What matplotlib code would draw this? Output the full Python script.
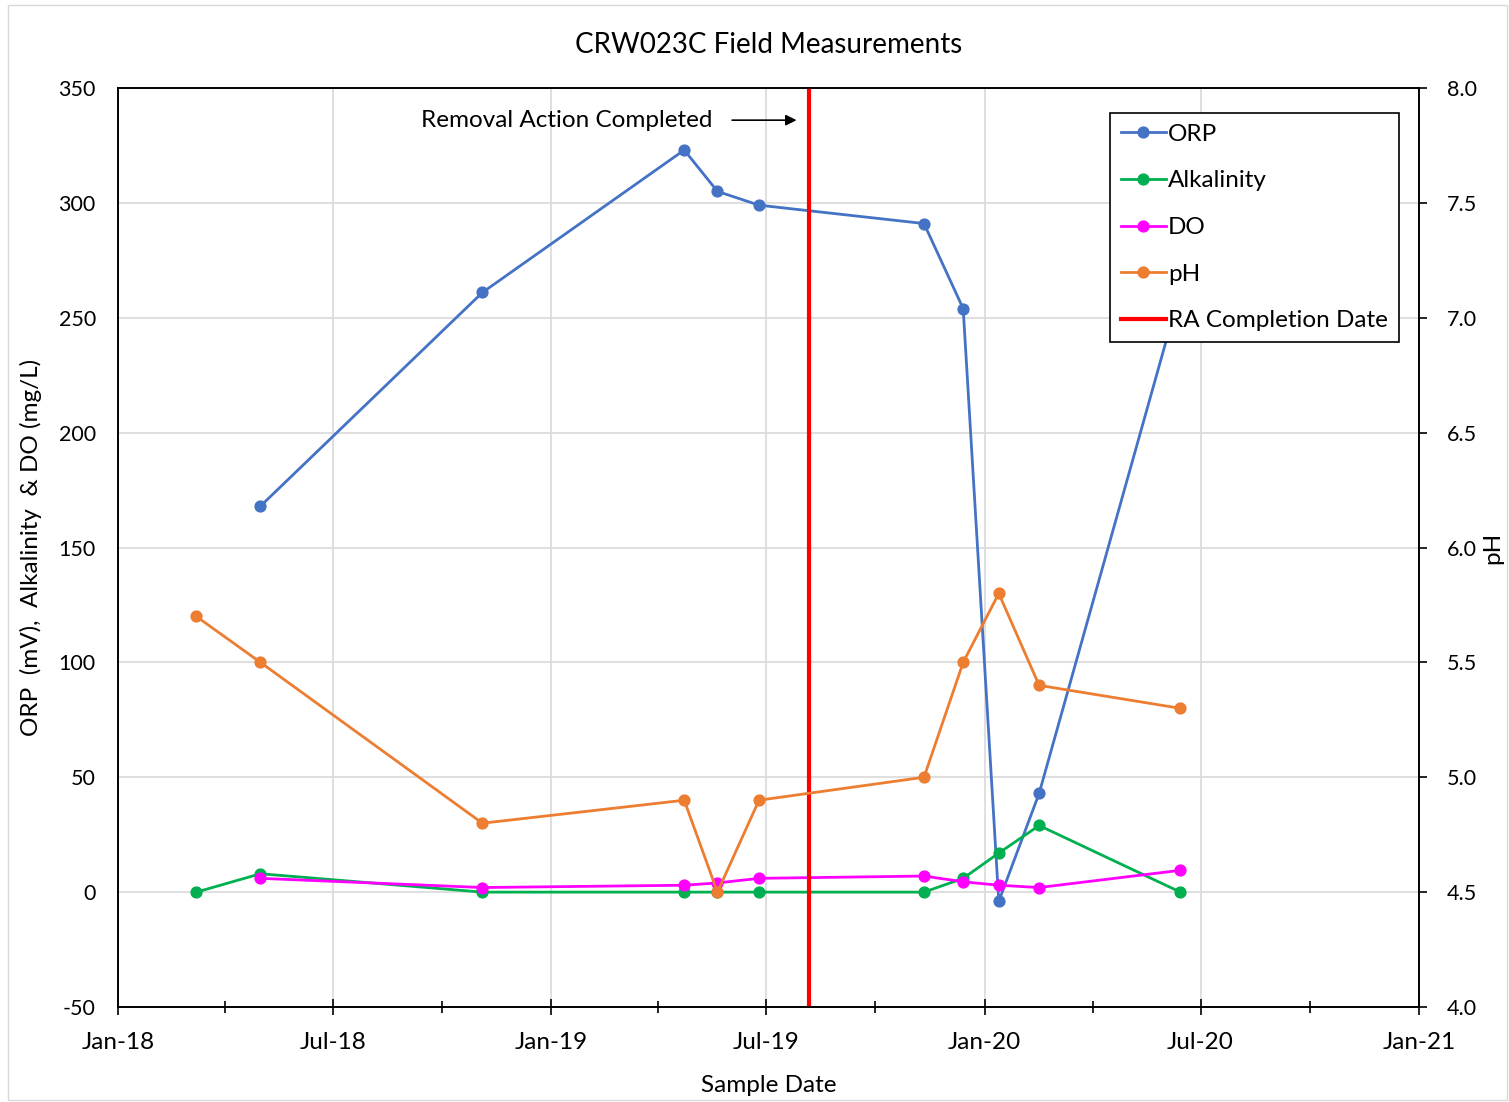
import matplotlib
matplotlib.use('Agg')
import matplotlib.pyplot as plt
import matplotlib.dates as mdates
from matplotlib.patches import Rectangle
import numpy as np
from datetime import datetime, timedelta

plt.rcParams['font.family'] = ['Lato', 'DejaVu Sans']
plt.rcParams['axes.unicode_minus'] = False

sample_dates = ['2018-03-08', '2018-05-01', '2018-11-04', '2019-04-23', '2019-05-21', '2019-06-25',
                '2019-11-11', '2019-12-14', '2020-01-13', '2020-02-16', '2020-06-14']
orp = [np.nan, 168, 261, 323, 305, 299, 291, 254, -4, 43, 262]
alkalinity = [0, 8, 0, 0, 0, 0, 0, 6, 17, 29, 0]
do = [np.nan, 6, 2, 3, 4, 6, 7, 4.5, 3, 2, 9.5]
ph = [5.7, 5.5, 4.8, 4.9, 4.5, 4.9, 5.0, 5.5, 5.8, 5.4, 5.3]
ra_date = datetime(2019, 8, 6)

dates = np.array([datetime.strptime(d, '%Y-%m-%d') for d in sample_dates])

fig = plt.figure(figsize=(15.09, 11.02), dpi=100)
ax = fig.add_axes([118/1509, 1 - 1007/1102, 1301/1509, 919/1102])
ax2 = ax.twinx()

def series(a, y, color, label):
    y = np.array(y, dtype=float)
    m = ~np.isnan(y)
    return a.plot(dates[m], y[m], color=color, marker='o', markersize=7.8, linewidth=2.0, label=label)[0]

l1 = series(ax, orp, '#4472C4', 'ORP')
l2 = series(ax, alkalinity, '#00B050', 'Alkalinity')
l3 = series(ax, do, '#FF00FF', 'DO')
l4 = series(ax2, ph, '#ED7D31', 'pH')
l5 = ax.axvline(ra_date, color='#FF0000', linewidth=3, label='RA Completion Date', zorder=5)

ax.set_xlim(datetime(2018, 1, 1), datetime(2021, 1, 1))
ax.set_ylim(-50, 350)
ax2.set_ylim(4.0, 8.0)
ax.set_yticks(np.arange(-50, 351, 50))
ax2.set_yticks(np.arange(4.0, 8.01, 0.5))
ax2.yaxis.set_major_formatter(matplotlib.ticker.FormatStrFormatter('%.1f'))

ax.xaxis.set_major_locator(mdates.MonthLocator(bymonth=[1, 7]))
ax.xaxis.set_minor_locator(mdates.MonthLocator(bymonth=[4, 10]))
ax.xaxis.set_major_formatter(mdates.DateFormatter('%b-%y'))

ax.grid(True, which='major', color='#D9D9D9', linewidth=1.2)
ax.set_axisbelow(True)
ax.tick_params(axis='x', which='major', direction='inout', length=12, width=1.2, labelsize=17.5, pad=12)
ax.tick_params(axis='x', which='minor', direction='inout', length=8, width=1.2)
ax.tick_params(axis='y', length=0, labelsize=15.5, pad=16)
ax2.tick_params(axis='y', direction='out', length=6, width=1.2, labelsize=15.5, pad=14)
for s in ax.spines.values():
    s.set_linewidth(1.2)
for s in ax2.spines.values():
    s.set_linewidth(1.2)

ax.set_title('CRW023C Field Measurements', fontsize=20, pad=25)
ax.set_xlabel('Sample Date', fontsize=17.5, labelpad=16)
ax.set_ylabel('ORP  (mV),  Alkalinity  & DO (mg/L)', fontsize=17.5, labelpad=12)
ax2.set_ylabel('pH', fontsize=17.5, labelpad=4)

# arrow + label pointing at the RA line
ax.annotate('', xy=(ra_date - timedelta(days=8), 336), xytext=(ra_date - timedelta(days=67), 336),
            arrowprops=dict(arrowstyle='-|>', color='black', lw=1.2, mutation_scale=16))
ax.text(ra_date - timedelta(days=81), 336, 'Removal Action Completed', fontsize=17.5,
        ha='right', va='center')

leg = ax2.legend([l1, l2, l3, l4, l5], ['ORP', 'Alkalinity', 'DO', 'pH', 'RA Completion Date'],
                 loc='upper right', bbox_to_anchor=(0.9846, 0.9728), fontsize=17.5, fancybox=False,
                 framealpha=1, edgecolor='black', borderpad=0.45, labelspacing=1.05,
                 handlelength=1.85, handletextpad=0.1, borderaxespad=0)
leg.get_frame().set_linewidth(1.2)

fig.patches.append(Rectangle((8/1509, 2/1102), 1499/1509, 1095/1102, transform=fig.transFigure,
                             fill=False, edgecolor='#D9D9D9', linewidth=1))

plt.savefig('out.png', dpi=100)
